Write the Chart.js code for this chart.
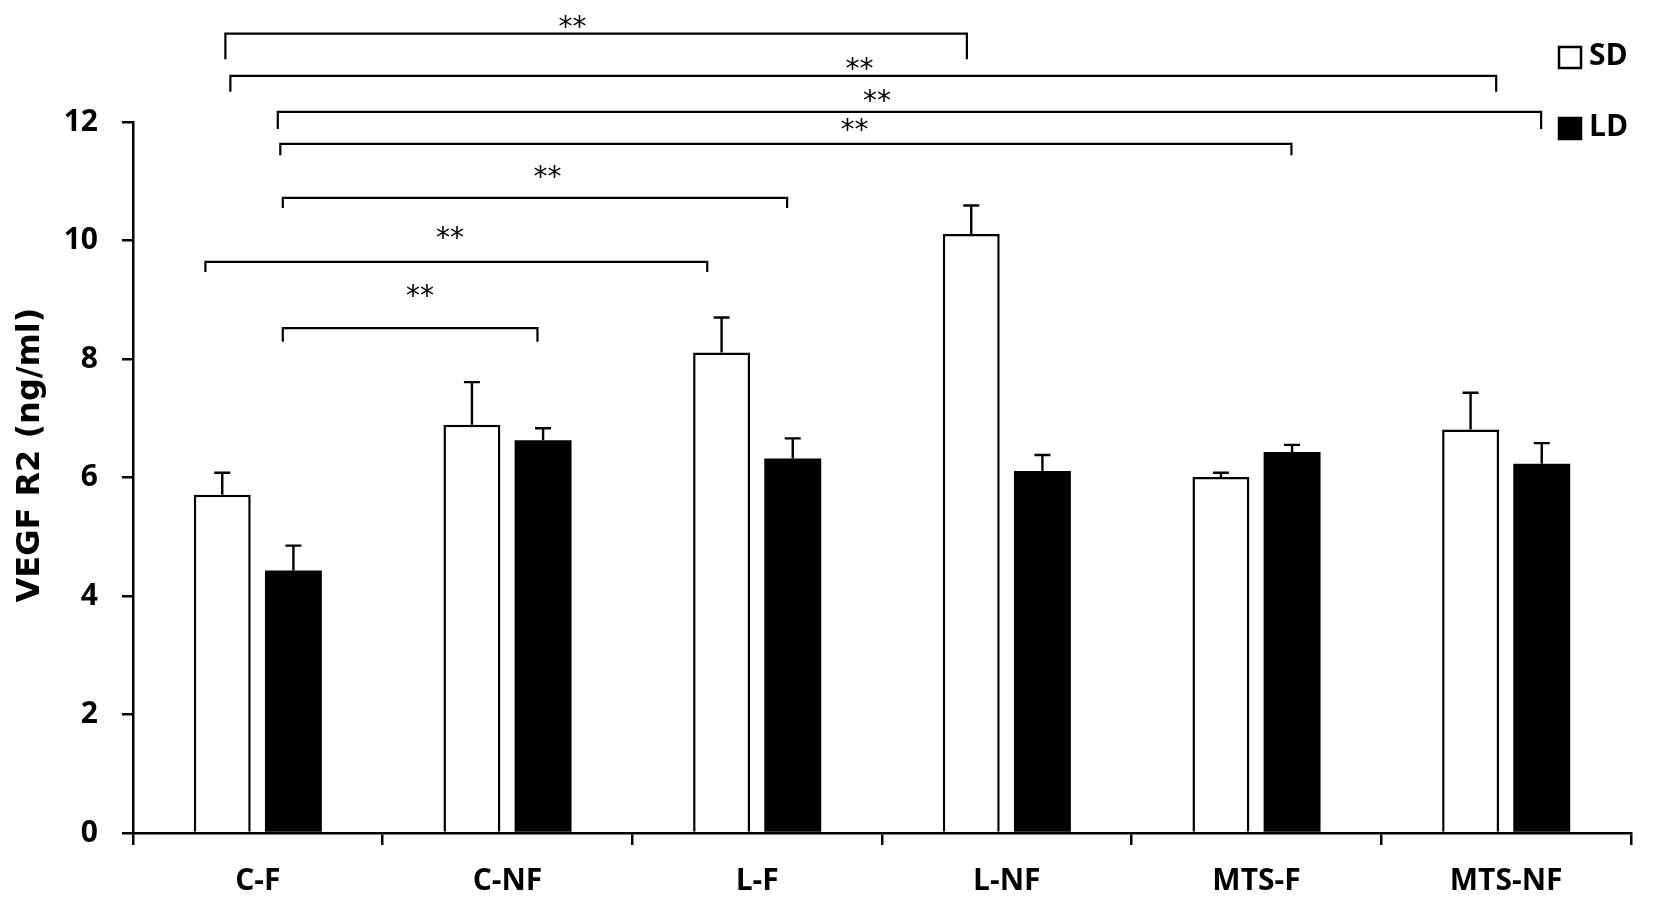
<!DOCTYPE html>
<html>
<head>
<meta charset="utf-8">
<script src="https://cdn.jsdelivr.net/npm/chart.js@4.4.1/dist/chart.umd.min.js"></script>
<style>
  html, body { margin: 0; padding: 0; background: #fff; }
  #wrap { width: 1654px; height: 918px; }
</style>
</head>
<body>
<div id="wrap"><canvas id="chartVegf"></canvas></div>
<script>
/* ─── Data ───────────────────────────────────────── */
const groups = ['C-F', 'C-NF', 'L-F', 'L-NF', 'MTS-F', 'MTS-NF'];
const sdMean = [5.71, 6.89, 8.11, 10.11, 6.01, 6.81];
const sdErr  = [0.37, 0.72, 0.59, 0.48, 0.07, 0.62];
const ldMean = [4.43, 6.63, 6.32, 6.11, 6.43, 6.23];
const ldErr  = [0.42, 0.20, 0.34, 0.27, 0.12, 0.35];
const yTicks = [0, 2, 4, 6, 8, 10, 12];
const yTitle = 'VEGF R2 (ng/ml)';

/* significance brackets: x in category units, y in ng/ml */
const bracketFrom  = [-0.13, -0.11, 0.08, 0.09, 0.10, -0.21, 0.10];
const bracketTo    = [2.84, 4.96, 5.14, 4.14, 2.12, 1.80, 1.12];
const bracketLevel = [13.49, 12.78, 12.17, 11.63, 10.72, 9.64, 8.52];
const bracketFoot  = [13.06, 12.51, 11.88, 11.44, 10.55, 9.47, 8.29];
const starX    = [1.26, 2.41, 2.48, 2.39, 1.16, 0.77, 0.65];
const starY    = [13.67, 12.96, 12.42, 11.93, 11.14, 10.11, 9.13];
const starText = ['**', '**', '**', '**', '**', '**', '**'];

/* ─── Plugins ────────────────────────────────────── */
const errorBars = {
  id: 'errorBars',
  afterDatasetsDraw(chart) {
    const { ctx, scales: { y } } = chart;
    const errs = [sdErr, ldErr];
    ctx.save();
    ctx.strokeStyle = '#000';
    ctx.lineWidth = 2.4;
    chart.data.datasets.forEach((ds, i) => {
      chart.getDatasetMeta(i).data.forEach((bar, j) => {
        const top = y.getPixelForValue(ds.data[j] + errs[i][j]);
        ctx.beginPath();
        ctx.moveTo(bar.x, bar.y);
        ctx.lineTo(bar.x, top);
        ctx.moveTo(bar.x - 8, top);
        ctx.lineTo(bar.x + 8, top);
        ctx.stroke();
      });
    });
    ctx.restore();
  },
};

const brackets = {
  id: 'brackets',
  afterDatasetsDraw(chart) {
    const { ctx, scales: { x, y } } = chart;
    ctx.save();
    ctx.strokeStyle = '#000';
    ctx.lineWidth = 2.2;
    bracketFrom.forEach((from, k) => {
      const x1 = x.getPixelForValue(from);
      const x2 = x.getPixelForValue(bracketTo[k]);
      const yl = y.getPixelForValue(bracketLevel[k]);
      const yf = y.getPixelForValue(bracketFoot[k]);
      ctx.beginPath();
      ctx.moveTo(x1, yf);
      ctx.lineTo(x1, yl);
      ctx.lineTo(x2, yl);
      ctx.lineTo(x2, yf);
      ctx.stroke();
    });
    ctx.fillStyle = '#000';
    ctx.font = '28px "DejaVu Sans"';
    ctx.textAlign = 'center';
    ctx.textBaseline = 'alphabetic';
    starText.forEach((t, k) => {
      ctx.fillText(t, x.getPixelForValue(starX[k]), y.getPixelForValue(starY[k]) + 13);
    });
    ctx.restore();
  },
};

/* legend boxes + rotated axis title, placed like the figure */
const decorations = {
  id: 'decorations',
  afterDraw(chart) {
    const { ctx } = chart;
    ctx.save();
    ctx.font = 'bold 30px "Open Sans"';
    ctx.textBaseline = 'middle';
    ctx.textAlign = 'left';
    chart.data.datasets.forEach((ds, i) => {
      const top = 47 + i * 71;
      ctx.fillStyle = ds.backgroundColor;
      ctx.fillRect(1559, top, 22, 21);
      ctx.strokeStyle = '#000';
      ctx.lineWidth = 2.5;
      ctx.strokeRect(1559, top, 22, 21);
      ctx.fillStyle = '#000';
      ctx.fillText(ds.label, 1589, top + 9);
    });
    ctx.translate(31, 455);
    ctx.rotate(-Math.PI / 2);
    ctx.font = 'bold 32px "DejaVu Sans"';
    ctx.textAlign = 'center';
    ctx.fillText(yTitle, 0, 0);
    ctx.restore();
  },
};

/* ─── Chart ──────────────────────────────────────── */
new Chart(document.getElementById('chartVegf'), {
  type: 'bar',
  data: {
    labels: groups,
    datasets: [
      {
        label: 'SD',
        data: sdMean,
        backgroundColor: '#fff',
        borderColor: '#000',
        borderWidth: 2.5,
      },
      {
        label: 'LD',
        data: ldMean,
        backgroundColor: '#000',
        borderColor: '#000',
        borderWidth: 0,
      },
    ],
  },
  options: {
    responsive: true,
    maintainAspectRatio: false,
    animation: false,
    categoryPercentage: 0.57,
    barPercentage: 0.8,
    layout: { padding: { top: 122, right: 23, bottom: 0, left: 0 } },
    plugins: {
      legend: { display: false },
      tooltip: { enabled: false },
    },
    scales: {
      x: {
        afterFit: s => { s.height = 85; },
        ticks: {
          color: '#000',
          padding: 18,
          font: { family: "'Open Sans'", size: 30, weight: 'bold' },
        },
        grid: {
          drawOnChartArea: false,
          tickLength: 12,
          color: '#000',
          lineWidth: 2.5,
        },
        border: { color: '#000', width: 2.5 },
      },
      y: {
        min: 0,
        max: 12,
        afterFit: s => { s.width = 133; },
        afterBuildTicks: s => { s.ticks = yTicks.map(v => ({ value: v })); },
        ticks: {
          color: '#000',
          padding: 24,
          font: { family: "'Open Sans'", size: 30, weight: 'bold' },
        },
        grid: {
          drawOnChartArea: false,
          tickLength: 11,
          color: '#000',
          lineWidth: 2.5,
        },
        border: { color: '#000', width: 2.5 },
      },
    },
  },
  plugins: [errorBars, brackets, decorations],
});
</script>
</body>
</html>
